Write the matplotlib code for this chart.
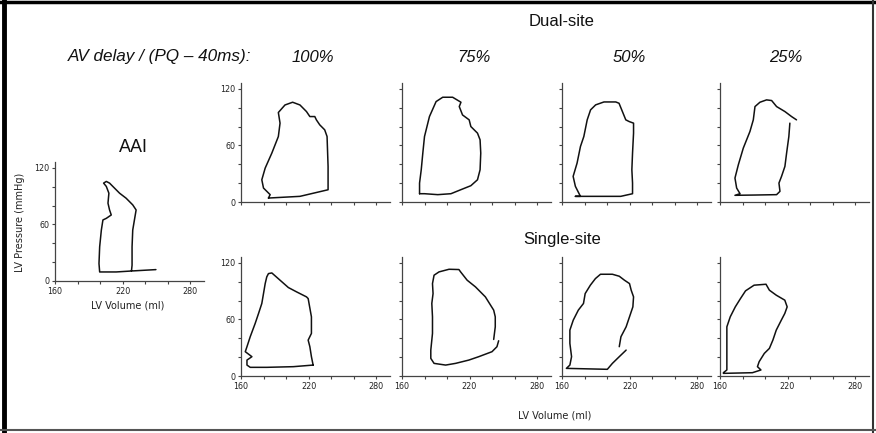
import matplotlib
matplotlib.use("Agg")
import matplotlib.pyplot as plt
from matplotlib.lines import Line2D

# ---------------- data (LV volume in ml, LV pressure in mmHg) ----------------
aai_vol = [228.0, 228.5, 228.5, 229.1, 230.6, 232.1, 229.1, 223.2, 217.4, 212.9, 208.5, 205.6,
           203.2, 205.6, 207.9, 207.1, 208.5, 210.0, 205.6, 202.6, 201.2, 199.7, 199.1, 199.7,
           214.4, 229.1, 249.7]
aai_pres = [11.0, 16.7, 36.3, 54.1, 64.8, 75.4, 80.8, 87.9, 93.2, 98.6, 103.9, 105.7,
            103.9, 100.4, 93.2, 82.6, 75.4, 70.1, 66.5, 64.8, 54.1, 36.3, 18.5, 9.6,
            9.6, 10.7, 12.1]

dual100_vol = [184.4, 212.4, 237.4, 237.4, 236.5, 234.4, 230.0, 227.0, 225.6, 221.2, 218.2,
               212.4, 205.9, 199.1, 193.2, 194.7, 193.2, 187.4, 181.5, 178.5, 180.0, 185.9, 184.4]
dual100_pres = [4.2, 6.0, 13.0, 37.8, 69.5, 76.6, 81.9, 87.2, 90.7, 90.7, 96.0,
                103.0, 105.9, 103.0, 95.0, 83.7, 69.5, 51.9, 36.0, 23.6, 14.8, 7.8, 4.2]

dual75_vol = [175.6, 175.6, 177.1, 178.5, 180.0, 184.4, 190.3, 196.2, 205.0, 212.4, 210.9,
              213.8, 219.7, 221.2, 227.1, 229.4, 230.0, 229.4, 227.1, 221.2, 212.4, 203.5,
              191.8, 180.0, 175.6]
dual75_pres = [8.8, 20.1, 34.2, 51.9, 69.5, 90.7, 106.6, 111.2, 111.2, 105.9, 101.3,
               92.4, 87.2, 80.1, 73.1, 66.0, 51.9, 34.2, 23.6, 17.3, 13.1, 8.8,
               7.8, 8.8, 8.8]

dual50_vol = [171.9, 212.2, 222.7, 222.7, 222.1, 222.7, 223.6, 223.6, 219.7, 216.7, 213.7,
              210.7, 207.8, 197.3, 189.9, 185.4, 182.4, 179.4, 176.4, 173.4, 169.9, 171.9,
              174.9, 176.4, 171.9]
dual50_pres = [6.0, 6.0, 8.8, 20.1, 34.2, 51.9, 73.1, 83.7, 85.4, 87.2, 96.0,
               104.8, 106.2, 106.2, 103.1, 97.8, 87.2, 69.5, 58.9, 41.3, 27.2, 16.6,
               9.5, 6.0, 6.0]

dual25_vol = [222.1, 221.2, 219.2, 217.7, 214.7, 212.4, 213.3, 210.3, 191.1, 173.3, 177.8,
              174.8, 173.3, 176.3, 180.7, 186.6, 189.6, 191.1, 195.5, 201.4, 205.9, 210.3,
              217.7, 223.6, 228.0]
dual25_pres = [83.7, 69.5, 51.9, 37.8, 27.2, 20.1, 11.3, 7.8, 7.4, 7.1, 8.8,
               14.8, 25.4, 39.5, 57.2, 74.8, 87.2, 101.3, 105.9, 108.4, 107.7, 101.3,
               96.0, 90.7, 87.2]

single100_vol = [224.1, 222.6, 221.2, 219.7, 222.6, 222.6, 219.7, 218.2, 209.4, 202.1, 194.7,
                 187.4, 184.4, 182.9, 181.5, 180.0, 178.5, 175.6, 172.6, 168.2, 165.3, 163.8,
                 169.7, 165.3, 165.3, 168.2, 182.9, 206.5, 224.1]
single100_pres = [11.6, 20.5, 31.1, 38.1, 45.2, 62.8, 82.2, 84.0, 89.3, 93.9, 101.7,
                  109.4, 108.7, 105.2, 98.1, 87.5, 77.0, 66.4, 55.8, 41.7, 31.1, 25.8,
                  20.5, 16.9, 11.6, 9.2, 9.2, 9.9, 11.6]

single75_vol = [241.5, 242.9, 242.9, 241.5, 234.1, 225.3, 217.9, 212.1, 210.6, 201.8, 192.9,
                188.5, 187.1, 187.6, 186.5, 187.1, 187.1, 185.6, 185.6, 188.5, 198.8, 207.6,
                219.4, 228.2, 240.0, 244.4, 245.9]
single75_pres = [38.8, 52.2, 62.8, 69.9, 84.0, 94.6, 101.7, 110.5, 113.0, 113.3, 110.5,
                 107.0, 98.1, 87.5, 77.0, 62.8, 45.2, 27.5, 18.7, 13.4, 11.6, 13.4,
                 16.9, 20.5, 25.8, 31.1, 37.4]

single50_vol = [210.9, 212.4, 217.0, 220.0, 223.0, 223.6, 221.5, 220.0, 215.5, 210.9, 204.8,
                194.2, 189.7, 185.2, 180.6, 179.1, 174.5, 170.0, 167.0, 167.0, 168.5, 167.0,
                163.9, 200.3, 204.8, 210.9, 217.0]
single50_pres = [31.1, 41.7, 52.2, 62.8, 73.4, 84.0, 91.1, 98.1, 101.7, 105.9, 108.0,
                 108.0, 103.4, 96.4, 87.5, 77.0, 69.9, 59.3, 48.7, 34.6, 20.5, 11.6,
                 8.1, 7.1, 13.4, 20.5, 27.5]

single25_vol = [163.0, 166.1, 166.1, 166.1, 169.1, 173.6, 178.2, 182.7, 190.3, 200.9, 203.9,
                210.0, 217.6, 219.7, 217.6, 214.5, 210.0, 207.0, 203.9, 199.4, 194.8, 193.3,
                196.4, 188.8, 163.0]
single25_pres = [3.5, 6.4, 27.5, 52.2, 62.8, 73.4, 82.2, 90.4, 96.4, 97.4, 91.1,
                 85.8, 80.5, 73.4, 66.4, 59.3, 48.7, 38.1, 29.3, 24.0, 15.2, 9.9,
                 6.4, 3.5, 2.8]

x_ticks = [160, 180, 200, 220, 240, 260, 280]
x_ticklabels = ["160", "", "", "220", "", "", "280"]
y_ticks = [0, 20, 40, 60, 80, 100, 120]
y_ticklabels = ["0", "", "", "60", "", "", "120"]

delay_labels = ["100%", "75%", "50%", "25%"]
dual_series = [(dual100_vol, dual100_pres), (dual75_vol, dual75_pres),
               (dual50_vol, dual50_pres), (dual25_vol, dual25_pres)]
single_series = [(single100_vol, single100_pres), (single75_vol, single75_pres),
                 (single50_vol, single50_pres), (single25_vol, single25_pres)]

# ---------------- layout ----------------
W, H = 876, 433
fig = plt.figure(figsize=(W / 100, H / 100), dpi=100)
fig.patch.set_facecolor("white")

AX_W = 148.5 / W
AX_H = 118.7 / H
XLIM = (160, 292)
YLIM = (0, 126)
AXCOL = "#444444"
TICKFONT = dict(family="DejaVu Sans", size=5.8)


def style_axis(ax, xlabels, ylabels):
    ax.set_xlim(*XLIM)
    ax.set_ylim(*YLIM)
    for s in ("top", "right"):
        ax.spines[s].set_visible(False)
    for s in ("left", "bottom"):
        ax.spines[s].set_color(AXCOL)
        ax.spines[s].set_linewidth(0.9)
    ax.set_xticks(x_ticks)
    ax.set_yticks(y_ticks)
    ax.set_xticklabels(x_ticklabels if xlabels else [""] * len(x_ticks), **TICKFONT)
    ax.set_yticklabels(y_ticklabels if ylabels else [""] * len(y_ticks), **TICKFONT)
    ax.tick_params(direction="out", length=2.5, width=0.8, color=AXCOL, pad=1.5,
                   labelcolor="#222222")
    ax.patch.set_alpha(0)


def px_axes(xleft, ybottom):
    return fig.add_axes([xleft / W, (H - ybottom) / H, AX_W, AX_H])


LOOP = dict(color="#111111", lw=1.1, solid_joinstyle="round", solid_capstyle="round")

# AAI panel
ax = px_axes(55, 281)
ax.plot(aai_vol, aai_pres, **LOOP)
style_axis(ax, True, True)

row_lefts = [241, 402, 562, 720]
for i, (v, p) in enumerate(dual_series):
    ax = px_axes(row_lefts[i], 202)
    ax.plot(v, p, **LOOP)
    style_axis(ax, False, i == 0)

for i, (v, p) in enumerate(single_series):
    ax = px_axes(row_lefts[i], 376)
    ax.plot(v, p, **LOOP)
    style_axis(ax, True, i == 0)


def ftext(x, y, s, **kw):
    fig.text(x / W, 1 - y / H, s, **kw)


TITLE = dict(family="Liberation Sans", color="#111111", ha="center", va="center")
ftext(562, 22, "Dual-site", size=12, **TITLE)
ftext(562, 240, "Single-site", size=12, **TITLE)
ftext(133, 148, "AAI", size=13, **TITLE)
ftext(68, 57, "AV delay / (PQ \u2013 40ms):", size=12.3, style="italic",
      family="Liberation Sans", color="#111111", ha="left", va="center")
for xc, lab in zip([313, 474, 629, 786], delay_labels):
    ftext(xc, 57, lab, size=12, style="italic", **TITLE)

LAB = dict(family="DejaVu Sans", size=7, color="#222222", ha="center", va="center")
ftext(555, 416, "LV Volume (ml)", **LAB)
ftext(128, 306, "LV Volume (ml)", **LAB)
ftext(20, 222, "LV Pressure (mmHg)", rotation=90, **LAB)

# frame around the figure
fig.add_artist(Line2D([4 / W, 4 / W], [0, 1], color="black", lw=3.5, transform=fig.transFigure))
fig.add_artist(Line2D([0, 1], [1 - 1.5 / H, 1 - 1.5 / H], color="black", lw=2.5, transform=fig.transFigure))
fig.add_artist(Line2D([1 - 3 / W, 1 - 3 / W], [0, 1], color="#333333", lw=1.5, transform=fig.transFigure))
fig.add_artist(Line2D([0, 1], [3 / H, 3 / H], color="#555555", lw=1.5, transform=fig.transFigure))

fig.savefig("out.png", dpi=100, facecolor="white")
